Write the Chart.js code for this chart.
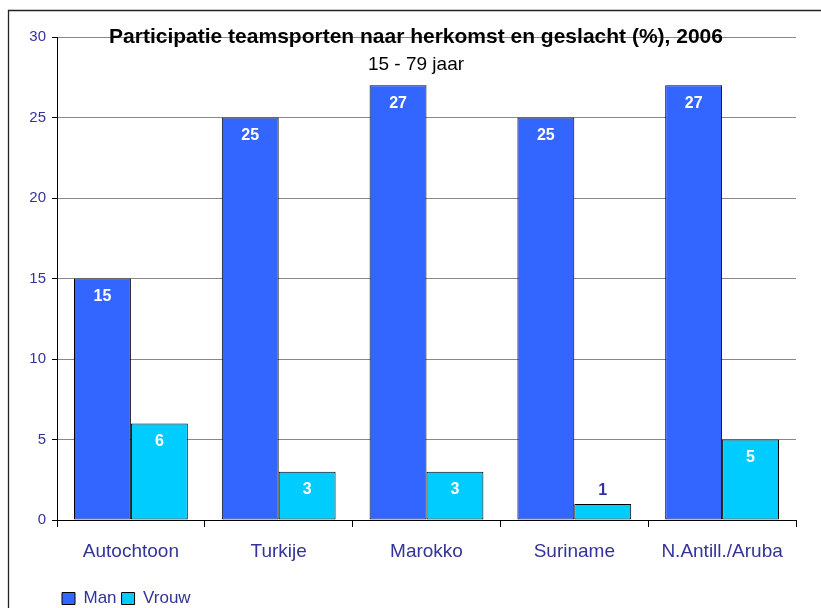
<!DOCTYPE html>
<html>
<head>
<meta charset="utf-8">
<script src="https://cdn.jsdelivr.net/npm/chart.js@4"></script>
<style>
  html, body { margin: 0; padding: 0; background: #fff; }
  #wrap { width: 821px; height: 608px; }
</style>
</head>
<body>
<div id="wrap"><canvas id="myChart" width="821" height="608"></canvas></div>
<script>
const categories = ['Autochtoon', 'Turkije', 'Marokko', 'Suriname', 'N.Antill./Aruba'];
const manValues = [15, 25, 27, 25, 27];
const vrouwValues = [6, 3, 3, 1, 5];
const yTicks = [0, 5, 10, 15, 20, 25, 30];
const titleText = 'Participatie teamsporten naar herkomst en geslacht (%), 2006';
const subtitleText = '15 - 79 jaar';

const labelBlue = '#333399';
const fontFamily = '"Liberation Sans", Arial, sans-serif';

// frame round the whole picture (only top and left edges are visible)
const framePlugin = {
    id: 'frame',
    beforeDraw(chart) {
        const ctx = chart.ctx;
        ctx.save();
        ctx.fillStyle = '#fff';
        ctx.fillRect(0, 0, chart.width, chart.height);
        ctx.strokeStyle = '#222';
        ctx.lineWidth = 1.3;
        ctx.beginPath();
        ctx.moveTo(8.5, chart.height);
        ctx.lineTo(8.5, 10.5);
        ctx.lineTo(chart.width, 10.5);
        ctx.stroke();
        ctx.restore();
    }
};

// move the legend to where the original has it
const legendShift = {
    id: 'legendShift',
    afterLayout(chart) {
        const lg = chart.legend;
        lg.left = 57;
        lg.top += 9;
        lg.bottom += 9;
    }
};

// title sits on top of the plot, like in the original
const titlePlugin = {
    id: 'overTitle',
    afterDraw(chart) {
        const ctx = chart.ctx;
        ctx.save();
        ctx.textAlign = 'center';
        ctx.textBaseline = 'alphabetic';
        ctx.fillStyle = '#000';
        ctx.font = 'bold 21px ' + fontFamily;
        ctx.fillText(titleText, 416, 43);
        ctx.font = '19px ' + fontFamily;
        ctx.fillText(subtitleText, 416, 70);
        ctx.restore();
    }
};

// value labels inside the bars
const valueLabels = {
    id: 'valueLabels',
    afterDatasetsDraw(chart) {
        const ctx = chart.ctx;
        ctx.save();
        ctx.textAlign = 'center';
        ctx.textBaseline = 'middle';
        ctx.font = 'bold 16px ' + fontFamily;
        chart.data.datasets.forEach((ds, i) => {
            chart.getDatasetMeta(i).data.forEach((bar, j) => {
                const v = ds.data[j];
                const h = bar.base - bar.y;
                if (h > 30) {
                    ctx.fillStyle = '#fff';
                    ctx.fillText(String(v), bar.x, bar.y + 18);
                } else {
                    ctx.fillStyle = labelBlue;
                    ctx.fillText(String(v), bar.x, bar.y - 13);
                }
            });
        });
        ctx.restore();
    }
};

const ctx = document.getElementById('myChart').getContext('2d');
const myChart = new Chart(ctx, {
    type: 'bar',
    data: {
        labels: categories,
        datasets: [{
            label: 'Man',
            data: manValues,
            backgroundColor: '#3366FF',
            borderColor: '#000',
            borderWidth: 1,
            borderSkipped: false,
            categoryPercentage: 0.77,
            barPercentage: 1
        }, {
            label: 'Vrouw',
            data: vrouwValues,
            backgroundColor: '#00CCFF',
            borderColor: '#000',
            borderWidth: 1,
            borderSkipped: false,
            categoryPercentage: 0.77,
            barPercentage: 1
        }]
    },
    options: {
        responsive: false,
        animation: false,
        layout: {
            padding: { left: 10, top: 37, right: 25, bottom: 0 }
        },
        plugins: {
            title: { display: false },
            tooltip: { enabled: false },
            legend: {
                position: 'bottom',
                align: 'start',
                labels: {
                    boxWidth: 13,
                    boxHeight: 12,
                    color: labelBlue,
                    font: { family: fontFamily, size: 17 },
                    padding: 5
                }
            }
        },
        scales: {
            x: {
                offset: true,
                grid: {
                    offset: true,
                    drawOnChartArea: false,
                    drawTicks: true,
                    tickLength: 7,
                    color: '#000'
                },
                border: { color: '#000', width: 1 },
                ticks: {
                    color: labelBlue,
                    padding: 13,
                    font: { family: fontFamily, size: 19 }
                },
                afterFit(scale) { scale.height = 56; }
            },
            y: {
                min: 0,
                max: 30,
                afterBuildTicks(scale) { scale.ticks = yTicks.map(v => ({ value: v })); },
                grid: {
                    color: '#888',
                    tickLength: 5,
                    tickColor: '#000'
                },
                border: { color: '#000', width: 1 },
                ticks: {
                    color: labelBlue,
                    padding: 6,
                    font: { family: fontFamily, size: 15 }
                },
                afterFit(scale) { scale.width = 47; }
            }
        }
    },
    plugins: [framePlugin, legendShift, titlePlugin, valueLabels]
});
</script>
</body>
</html>
